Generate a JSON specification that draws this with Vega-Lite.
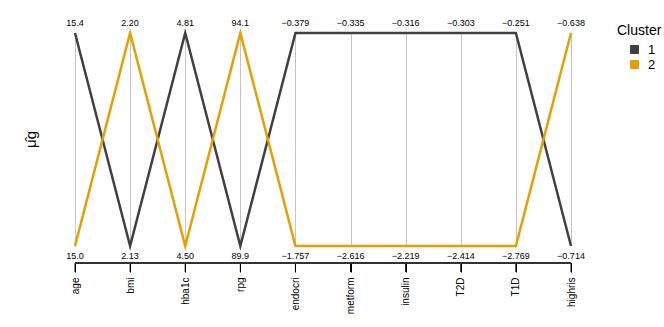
{
  "$schema": "https://vega.github.io/schema/vega-lite/v6.json",
  "width": 496,
  "height": 213,
  "autosize": "none",
  "padding": {"left": 75, "top": 33, "right": 93, "bottom": 81},
  "config": {
    "view": {"stroke": null},
    "font": "Liberation Sans",
    "axisX": {"domain": true, "ticks": true, "domainColor": "#333", "domainWidth": 1, "tickColor": "#000", "tickWidth": 1, "tickSize": 9, "grid": false},
    "axisY": {"domain": false, "ticks": false, "labels": false, "grid": false}
  },
  "datasets": {
    "lines": [
      {"var": "age", "i": 1, "cluster": "1", "v": 1},
      {"var": "bmi", "i": 2, "cluster": "1", "v": 0},
      {"var": "hba1c", "i": 3, "cluster": "1", "v": 1},
      {"var": "rpg", "i": 4, "cluster": "1", "v": 0},
      {"var": "endocri", "i": 5, "cluster": "1", "v": 1},
      {"var": "metform", "i": 6, "cluster": "1", "v": 1},
      {"var": "insulin", "i": 7, "cluster": "1", "v": 1},
      {"var": "T2D", "i": 8, "cluster": "1", "v": 1},
      {"var": "T1D", "i": 9, "cluster": "1", "v": 1},
      {"var": "highris", "i": 10, "cluster": "1", "v": 0},
      {"var": "age", "i": 1, "cluster": "2", "v": 0},
      {"var": "bmi", "i": 2, "cluster": "2", "v": 1},
      {"var": "hba1c", "i": 3, "cluster": "2", "v": 0},
      {"var": "rpg", "i": 4, "cluster": "2", "v": 1},
      {"var": "endocri", "i": 5, "cluster": "2", "v": 0},
      {"var": "metform", "i": 6, "cluster": "2", "v": 0},
      {"var": "insulin", "i": 7, "cluster": "2", "v": 0},
      {"var": "T2D", "i": 8, "cluster": "2", "v": 0},
      {"var": "T1D", "i": 9, "cluster": "2", "v": 0},
      {"var": "highris", "i": 10, "cluster": "2", "v": 1}
    ],
    "labels": [
      {"var": "age", "top": "15.4", "bottom": "15.0"},
      {"var": "bmi", "top": "2.20", "bottom": "2.13"},
      {"var": "hba1c", "top": "4.81", "bottom": "4.50"},
      {"var": "rpg", "top": "94.1", "bottom": "89.9"},
      {"var": "endocri", "top": "−0.379", "bottom": "−1.757"},
      {"var": "metform", "top": "−0.335", "bottom": "−2.616"},
      {"var": "insulin", "top": "−0.316", "bottom": "−2.219"},
      {"var": "T2D", "top": "−0.303", "bottom": "−2.414"},
      {"var": "T1D", "top": "−0.251", "bottom": "−2.769"},
      {"var": "highris", "top": "−0.638", "bottom": "−0.714"}
    ]
  },
  "layer": [
    {
      "data": {"name": "lines"},
      "mark": {"type": "line", "strokeWidth": 2.5},
      "encoding": {
        "x": {
          "field": "var", "type": "nominal",
          "scale": {"type": "point", "padding": 0, "domain": ["age","bmi","hba1c","rpg","endocri","metform","insulin","T2D","T1D","highris"]},
          "axis": {
            "title": null, "offset": 17, "grid": true, "gridColor": "#c4c4c4",
            "labelAngle": -90, "labelAlign": "right", "labelBaseline": "middle", "labelFontSize": 10, "labelPadding": 5, "labelColor": "#000"
          }
        },
        "y": {
          "field": "v", "type": "quantitative", "scale": {"domain": [0, 1], "nice": false, "zero": false},
          "axis": {"title": "μ̂g", "titleFontSize": 15, "titleFontWeight": "normal", "titleX": -37, "titleY": 106, "titleColor": "#000"}
        },
        "color": {
          "field": "cluster", "type": "nominal",
          "scale": {"domain": ["1", "2"], "range": ["#404040", "#E69F00"]},
          "legend": {
            "title": "Cluster", "orient": "none", "legendX": 542, "legendY": -9,
            "titleFontSize": 14, "titleFontWeight": "normal", "titleColor": "#000", "titlePadding": 5,
            "symbolType": "square", "symbolSize": 64, "symbolStrokeColor": "#000", "symbolStrokeWidth": 1, "symbolOpacity": 1,
            "symbolOffset": 11, "labelFontSize": 13, "labelColor": "#000", "labelOffset": 7, "rowPadding": 1,
            "encode": {"symbols": {"update": {"fill": {"scale": "color", "field": "value"}, "stroke": {"value": "#000"}, "opacity": {"value": 1}}}}
          }
        },
        "order": {"field": "i", "type": "quantitative"}
      }
    },
    {
      "data": {"name": "labels"},
      "mark": {"type": "rule", "color": "#000", "strokeWidth": 1},
      "encoding": {
        "x": {"field": "var", "type": "nominal"},
        "y": {"datum": -0.0798, "type": "quantitative"},
        "y2": {"datum": -0.1221}
      }
    },
    {
      "data": {"name": "labels"},
      "mark": {"type": "rule", "color": "#333", "strokeWidth": 1},
      "encoding": {
        "x": {"datum": "age", "type": "nominal"},
        "x2": {"datum": "highris"},
        "y": {"datum": -0.0798, "type": "quantitative"}
      }
    },
    {
      "data": {"name": "labels"},
      "mark": {"type": "text", "dy": -10, "fontSize": 9, "color": "#000"},
      "encoding": {
        "x": {"field": "var", "type": "nominal"},
        "y": {"datum": 1, "type": "quantitative"},
        "text": {"field": "top"}
      }
    },
    {
      "data": {"name": "labels"},
      "mark": {"type": "text", "dy": 10, "fontSize": 9, "color": "#000"},
      "encoding": {
        "x": {"field": "var", "type": "nominal"},
        "y": {"datum": 0, "type": "quantitative"},
        "text": {"field": "bottom"}
      }
    }
  ]
}
